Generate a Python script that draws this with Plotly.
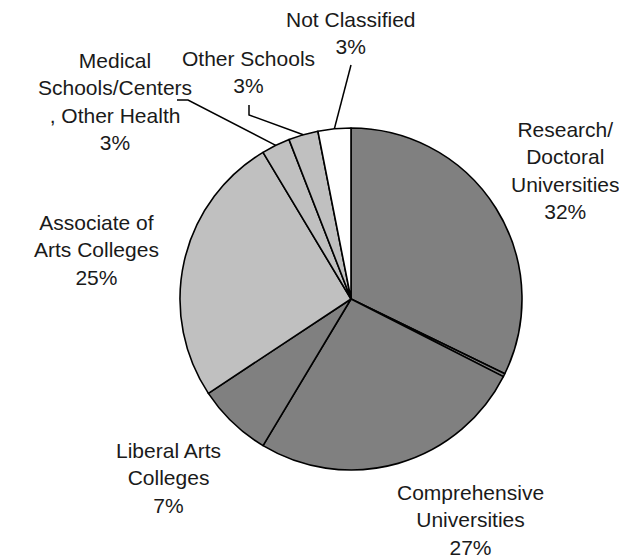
import math
import plotly.graph_objects as go

# ---- data ----
categories = ["Research/<br>Doctoral<br>Universities", "(unlabeled)", "Comprehensive<br>Universities",
              "Liberal Arts<br>Colleges", "Associate of<br>Arts Colleges",
              "Medical<br>Schools/Centers<br>, Other Health", "Other Schools", "Not Classified"]
shares = [32.2, 0.3, 26.1, 7.1, 25.7, 2.7, 2.8, 3.1]
pct_labels = ["32%", "", "27%", "7%", "25%", "3%", "3%", "3%"]
colors = ["#808080", "#808080", "#808080", "#808080", "#C0C0C0", "#C0C0C0", "#C0C0C0", "#FFFFFF"]

W, H = 619, 560
CX, CY, R = 351, 299, 171

def px(x):
    return x / W

def py(y):
    return 1 - y / H

fig = go.Figure(go.Pie(
    labels=categories, values=shares, sort=False, direction="clockwise", rotation=0,
    marker=dict(colors=colors, line=dict(color="black", width=1.6)),
    textinfo="none", hoverinfo="label+percent", showlegend=False,
    domain=dict(x=[px(CX - R), px(CX + R)], y=[py(CY + R), py(CY - R)]),
))

# label placement (pixel centres) per category index
label_pos = {0: (565, 170), 2: (470, 520), 3: (168, 478), 4: (96, 250),
             5: (115, 101), 6: (248, 72), 7: (351, 33)}
annotations = []
for i, (x, y) in label_pos.items():
    annotations.append(dict(
        x=px(x), y=py(y), xref="paper", yref="paper", showarrow=False,
        text=categories[i] + "<br>" + pct_labels[i], align="center",
        xanchor="center", yanchor="middle",
        font=dict(family="Liberation Sans, Arial, sans-serif", size=21, color="#1a1a1a"),
    ))

# edge point of each slice at its mid angle (computed from data)
total = sum(shares)
cum = 0
edge = []
for v in shares:
    mid = (cum + v / 2) / total * 2 * math.pi
    edge.append((CX + R * math.sin(mid), CY - R * math.cos(mid)))
    cum += v

leaders = {7: [(351, 65)], 6: [(249, 105), (249, 115)], 5: [(177, 100), (188, 100)]}
shapes = []
for i, pts in leaders.items():
    path_pts = pts + [edge[i]]
    d = "M " + " L ".join(f"{px(x):.5f},{py(y):.5f}" for x, y in path_pts)
    shapes.append(dict(type="path", path=d, xref="paper", yref="paper",
                       line=dict(color="black", width=1.5)))

fig.update_layout(width=W, height=H, margin=dict(l=0, r=0, t=0, b=0),
                  paper_bgcolor="white", plot_bgcolor="white",
                  annotations=annotations, shapes=shapes)
fig.write_html("out.html", config={"displayModeBar": False},
               post_script="document.body.style.margin='0';")
